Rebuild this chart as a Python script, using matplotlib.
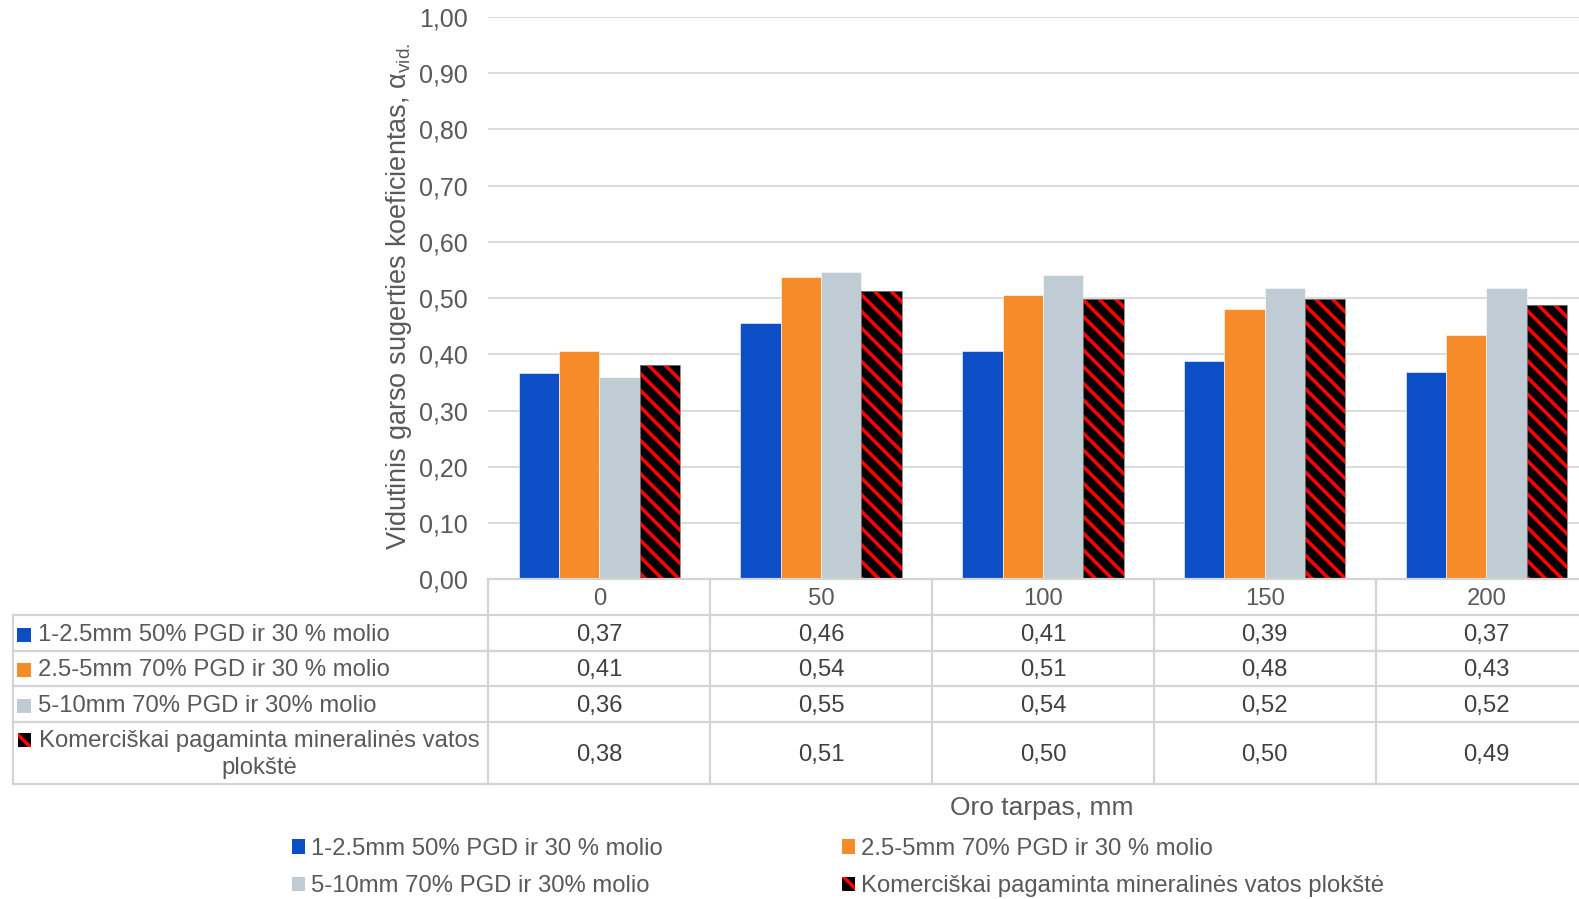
import numpy as np
import matplotlib
matplotlib.use("Agg")
import matplotlib.pyplot as plt
from matplotlib.patches import Patch

plt.rcParams['font.family'] = ['Liberation Sans', 'DejaVu Sans']
plt.rcParams['mathtext.fontset'] = 'custom'
plt.rcParams['mathtext.rm'] = 'Liberation Sans'
plt.rcParams['mathtext.it'] = 'Liberation Sans:italic'
plt.rcParams['hatch.linewidth'] = 2.6

# air gap, mm
gaps = ['0', '50', '100', '150', '200']
series_names = [
    '1-2.5mm 50% PGD ir 30 % molio',
    '2.5-5mm 70% PGD ir 30 % molio',
    '5-10mm 70% PGD ir 30% molio',
    'Komerciškai pagaminta mineralinės vatos plokštė',
]
fine = [0.366, 0.456, 0.406, 0.388, 0.368]
medium = [0.406, 0.538, 0.506, 0.480, 0.434]
coarse = [0.359, 0.546, 0.542, 0.518, 0.518]
mineral_wool = [0.382, 0.512, 0.498, 0.499, 0.487]

values = [fine, medium, coarse, mineral_wool]
colors = ['#0b4ec6', '#f68b2a', '#bfccd3', 'black']

W, H = 1579, 899
fig = plt.figure(figsize=(W / 100, H / 100), dpi=100)

grid_c = '#d9d9d9'
txt_c = '#595959'
val_c = '#404040'
fs = 17.2

cat_w = 221.8
ax_left = 488.4
ax_bottom = 579.3
ax_top = 17.0
ax = fig.add_axes([ax_left / W, 1 - ax_bottom / H, 5 * cat_w / W, (ax_bottom - ax_top) / H])

x = np.arange(len(gaps))
bw = 0.182
for i, (vals, col) in enumerate(zip(values, colors)):
    pos = x + (i - 1.5) * bw
    if i == 3:
        ax.bar(pos, vals, bw, color='black', edgecolor='red', hatch='\\\\', linewidth=0)
        ax.bar(pos, vals, bw, fill=False, edgecolor='#7f7f7f', linewidth=0.6)
    else:
        ax.bar(pos, vals, bw, color=col, edgecolor='white', linewidth=0.4)

ax.set_xlim(-0.5, 4.5)
ax.set_ylim(0, 1.0)
ax.set_yticks(np.arange(0, 1.01, 0.1))
ax.set_yticklabels([f'{v:.2f}'.replace('.', ',') for v in np.arange(0, 1.01, 0.1)])
ax.tick_params(axis='y', length=0, pad=15, labelsize=18, labelcolor=txt_c)
ax.tick_params(axis='x', length=0, labelbottom=False)
ax.yaxis.grid(True, color=grid_c, linewidth=1.3)
ax.set_axisbelow(True)
for s in ax.spines.values():
    s.set_visible(False)

fig.text(399 / W, 1 - 296 / H, 'Vidutinis garso sugerties koeficientas, α$_{\\mathrm{vid.}}$',
         rotation=90, ha='center', va='center', fontsize=19.5, color=txt_c)

# data table under the bars
tab_left = 12.7
tab_bottom = 784.3
tax = fig.add_axes([tab_left / W, 1 - tab_bottom / H,
                    (ax_left + 5 * cat_w - tab_left) / W, (tab_bottom - ax_bottom) / H])
x0 = -0.5 - (ax_left - tab_left) / cat_w
tax.set_xlim(x0, 4.5)
row_edges = [0, 1, 2, 3, 4, 5.75]
tax.set_ylim(row_edges[-1], 0)
tax.axis('off')

tc = '#d4d4d4'
tlw = 1.6
tax.plot([-0.5, 4.5], [0, 0], color=tc, lw=tlw, clip_on=False)
for r in row_edges[1:]:
    tax.plot([x0, 4.5], [r, r], color=tc, lw=tlw, clip_on=False)
tax.plot([x0, x0], [1, row_edges[-1]], color=tc, lw=tlw, clip_on=False)
for c in np.arange(-0.5, 4.6, 1):
    tax.plot([c, c], [0, row_edges[-1]], color=tc, lw=tlw, clip_on=False)

for j, g in enumerate(gaps):
    tax.text(j, 0.55, g, ha='center', va='center', fontsize=fs, color=txt_c)

mark_x = x0 + (20 - tab_left) / cat_w
text_x = x0 + (38 - tab_left) / cat_w
for i, (name, vals) in enumerate(zip(series_names, values)):
    lo, hi = row_edges[i + 1], row_edges[i + 2]
    mid = (lo + hi) / 2
    if i == 3:
        tax.scatter([mark_x + 0.02], [lo + 0.5], marker='s', s=95, color='black',
                    edgecolor='red', hatch='\\\\', linewidth=0, clip_on=False)
        tax.text(x0 + (259 - tab_left) / cat_w, mid + 0.04,
                 'Komerciškai pagaminta mineralinės vatos\nplokštė',
                 ha='center', va='center', multialignment='center',
                 fontsize=fs, color=txt_c, linespacing=1.3)
    else:
        tax.scatter([mark_x + 0.02], [mid + 0.05], marker='s', s=95, color=colors[i],
                    linewidth=0, clip_on=False)
        tax.text(text_x, mid + 0.05, name, ha='left', va='center', fontsize=fs, color=txt_c)
    for j, v in enumerate(vals):
        tax.text(j, mid + 0.05, f'{v:.2f}'.replace('.', ','), ha='center', va='center',
                 fontsize=fs, color=val_c)

fig.text(1042 / W, 1 - 808 / H, 'Oro tarpas, mm', ha='center', va='center',
         fontsize=19, color=txt_c)

leg_handles = [Patch(facecolor=colors[0]), Patch(facecolor=colors[2]),
               Patch(facecolor=colors[1]),
               Patch(facecolor='black', edgecolor='red', hatch='\\\\', linewidth=0)]
leg_labels = [series_names[0], series_names[2], series_names[1], series_names[3]]
fig.legend(leg_handles, leg_labels, ncol=2, loc='upper left',
           bbox_to_anchor=(280 / W, 1 - 826 / H), frameon=False,
           fontsize=fs, handlelength=0.55, handleheight=0.55, handletextpad=0.25,
           columnspacing=7.5, labelspacing=0.65, borderpad=0, labelcolor=txt_c)

fig.savefig('out.png', dpi=100)
